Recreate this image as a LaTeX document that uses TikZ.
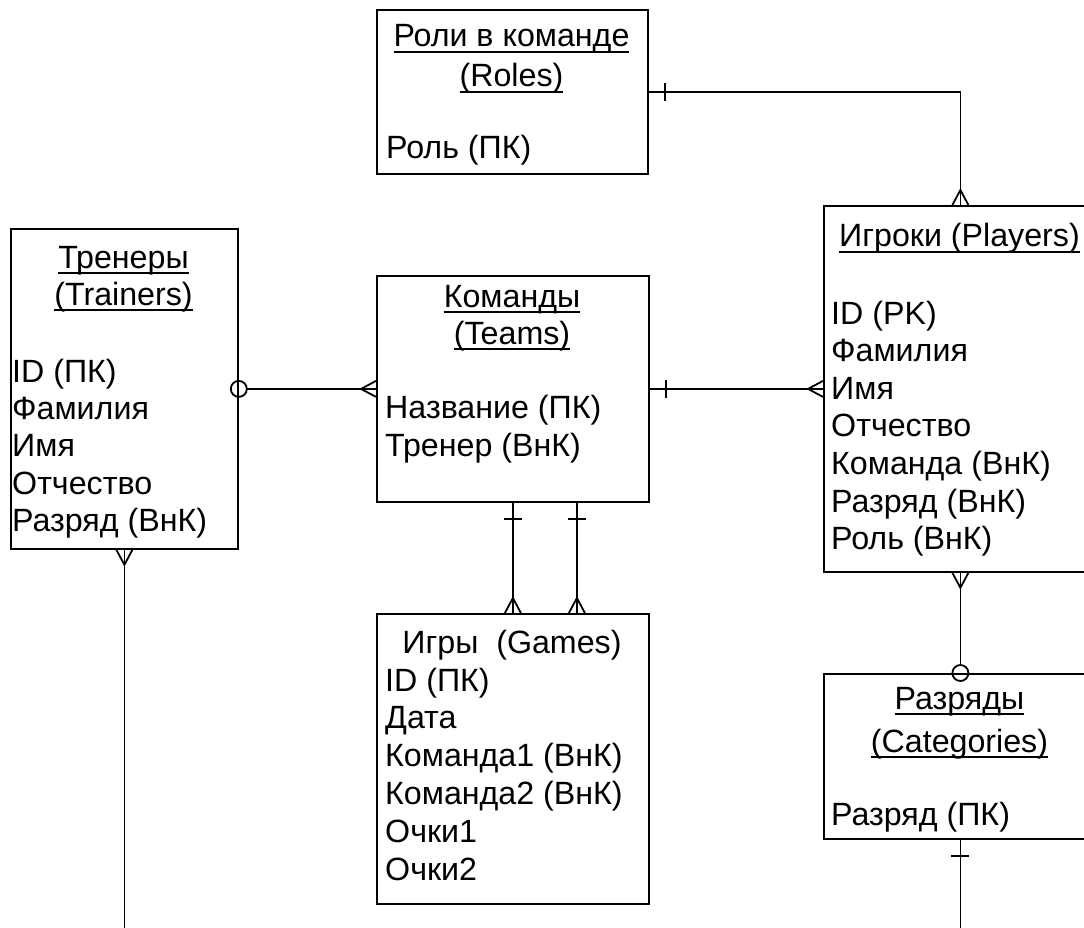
\documentclass[tikz,border=0pt]{standalone}
\usepackage{fontspec}
\setmainfont{Liberation Sans}
\newcommand\ftsz{\fontsize{32.2}{37.6}\selectfont}
\newcommand\ulx[1]{\leavevmode\setbox0\hbox{#1}\rlap{\vrule height -4pt depth 6pt width \wd0}\box0}
\tikzset{
  ent/.style={draw, line width=1.8pt, inner sep=0pt, anchor=north west},
  ttl/.style={anchor=base, inner sep=0pt, font=\ftsz},
  fld/.style={anchor=base west, inner sep=0pt, font=\ftsz},
  conn/.style={line width=1.8pt},
  crow/.pic={\draw[conn] (0pt,8pt) -- (15pt,0pt) -- (0pt,-8pt); \draw[conn] (0pt,0pt) -- (15pt,0pt);},
  bar/.pic={\draw[conn] (16pt,-9pt) -- (16pt,9pt);},
  ring/.pic={\draw[conn] (0pt,0pt) circle[radius=8pt];}
}
\begin{document}
\begin{tikzpicture}[x=1pt,y=-1pt]
\useasboundingbox (0,0) rectangle (1084,928);
\clip (0,0) rectangle (1084,928);
\fill[white] (0,0) rectangle (1084,928);

% entities
\node[ent, minimum width=271pt, minimum height=164pt] (roles) at (376,9) {};
\node[ent, minimum width=227pt, minimum height=320pt] (trainers) at (10,228) {};
\node[ent, minimum width=272pt, minimum height=226pt] (teams) at (376,275) {};
\node[ent, minimum width=273pt, minimum height=366pt] (players) at (823,205) {};
\node[ent, minimum width=272pt, minimum height=290pt] (games) at (376,613) {};
\node[ent, minimum width=273pt, minimum height=165pt] (cats) at (823,673) {};

% Roles text
\node[ttl] (roles-t1) at (511.5,47) {\ulx{Роли в команде}};
\node[ttl] (roles-t2) at (511.5,87) {\ulx{(Roles)}};
\node[fld] (roles-f1) at (386,159) {Роль (ПК)};

% Trainers text
\node[ttl] (tr-t1) at (123.5,268) {\ulx{Тренеры}};
\node[ttl] (tr-t2) at (123.5,305) {\ulx{(Trainers)}};
\foreach \t [count=\i] in {ID (ПК), Фамилия, Имя, Отчество, Разряд (ВнК)}
  \node[fld] (tr-f\i) at (12,{382+37.4*(\i-1)}) {\t};

% Teams text
\node[ttl] (te-t1) at (512,307) {\ulx{Команды}};
\node[ttl] (te-t2) at (512,344) {\ulx{(Teams)}};
\node[fld] (te-f1) at (385,418) {Название (ПК)};
\node[fld] (te-f2) at (385,456) {Тренер (ВнК)};

% Players text
\node[ttl] (pl-t1) at (959.5,247) {\ulx{Игроки (Players)}};
\foreach \t [count=\i] in {ID (PK), Фамилия, Имя, Отчество, Команда (ВнК), Разряд (ВнК), Роль (ВнК)}
  \node[fld] (pl-f\i) at (831,{324+37.6*(\i-1)}) {\t};

% Games text
\node[ttl] (ga-t1) at (512,653) {Игры~~(Games)};
\foreach \t [count=\i] in {ID (ПК), Дата, Команда1 (ВнК), Команда2 (ВнК), Очки1, Очки2}
  \node[fld] (ga-f\i) at (385,{691+37.8*(\i-1)}) {\t};

% Categories text
\node[ttl] (ca-t1) at (959.5,709) {\ulx{Разряды}};
\node[ttl] (ca-t2) at (959.5,752) {\ulx{(Categories)}};
\node[fld] (ca-f1) at (831,825) {Разряд (ПК)};

% connectors
\draw[conn] (roles.east) -| (players.north);
\pic at (roles.east) {bar};
\pic[rotate=90] at (players.north) {crow};

\coordinate (tew) at (trainers.east -| teams.west);
\draw[conn] ([xshift=8pt]trainers.east) -- (tew);
\pic at (trainers.east) {ring};
\pic[rotate=180] at (tew) {crow};

\coordinate (plw) at (teams.east -| players.west);
\draw[conn] (teams.east) -- (plw);
\pic at (teams.east) {bar};
\pic[rotate=180] at (plw) {crow};

\coordinate (ts2) at ([xshift=64pt]teams.south);
\coordinate (gn2) at ([xshift=64pt]games.north);
\draw[conn] (teams.south) -- (games.north);
\draw[conn] (ts2) -- (gn2);
\pic[rotate=-90] at (teams.south) {bar};
\pic[rotate=-90] at (ts2) {bar};
\pic[rotate=90] at (games.north) {crow};
\pic[rotate=90] at (gn2) {crow};

\draw[conn] (players.south) -- ([yshift=8pt]cats.north);
\pic[rotate=-90] at (players.south) {crow};
\pic at (cats.north) {ring};

\coordinate (catend) at ([yshift=-120pt]cats.south);
\draw[conn] (cats.south) -- (catend);
\pic[rotate=-90] at (cats.south) {bar};

\coordinate (trend) at ([yshift=-420pt]trainers.south);
\draw[conn] (trainers.south) -- (trend);
\pic[rotate=-90] at (trainers.south) {crow};
\end{tikzpicture}
\end{document}
